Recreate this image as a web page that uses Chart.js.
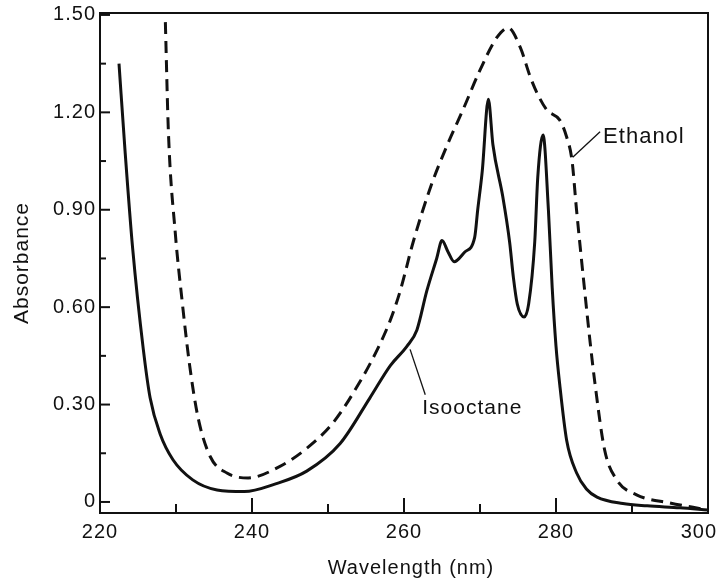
<!DOCTYPE html>
<html>
<head>
<meta charset="utf-8">
<script src="https://cdn.jsdelivr.net/npm/chart.js@4/dist/chart.umd.min.js"></script>
<style>
  html, body { margin: 0; padding: 0; background: #fff; }
  #wrap { width: 721px; height: 580px; }
</style>
</head>
<body>
<div id="wrap"><canvas id="c" width="721" height="580"></canvas></div>
<script>
// ---- data ----
const isoWavelength = [222.5, 223.3, 224.3, 225.7, 226.6, 227.9, 229.6, 232.2, 235.4, 239.0, 243.0, 247.2, 251.6, 255.5, 258.2, 260.4, 261.7, 263.0, 264.3, 265.0, 265.8, 266.6, 268.0, 269.3, 269.7, 270.3, 271.1, 271.7, 273.0, 273.9, 274.4, 274.9, 275.8, 276.4, 277.2, 277.6, 278.3, 279.0, 279.5, 280.0, 280.5, 281.4, 282.7, 284.0, 285.4, 288.8, 292.0, 296.3, 300.0];
const isoAbsorbance = [1.35, 1.08, 0.78, 0.47, 0.32, 0.21, 0.13, 0.068, 0.037, 0.032, 0.055, 0.095, 0.18, 0.32, 0.42, 0.48, 0.53, 0.65, 0.75, 0.805, 0.77, 0.74, 0.77, 0.815, 0.90, 1.02, 1.24, 1.10, 0.94, 0.80, 0.69, 0.61, 0.57, 0.61, 0.80, 1.00, 1.13, 0.90, 0.66, 0.48, 0.36, 0.19, 0.09, 0.04, 0.015, -0.005, -0.012, -0.018, -0.025];

const ethWavelength = [228.6, 229.0, 229.9, 230.8, 231.8, 232.9, 234.5, 236.7, 239.5, 243.3, 247.2, 250.7, 254.2, 256.5, 258.2, 259.5, 261.2, 263.5, 265.7, 267.8, 270.0, 272.2, 273.7, 275.3, 276.6, 277.5, 278.8, 280.5, 281.4, 282.1, 282.7, 283.6, 284.5, 285.1, 286.4, 288.0, 290.6, 295.0, 299.3, 300.0];
const ethAbsorbance = [1.478, 1.14, 0.83, 0.62, 0.42, 0.26, 0.14, 0.089, 0.074, 0.105, 0.165, 0.245, 0.37, 0.47, 0.56, 0.65, 0.80, 0.97, 1.10, 1.21, 1.33, 1.43, 1.46, 1.40, 1.31, 1.26, 1.207, 1.176, 1.124, 1.053, 0.90, 0.69, 0.49, 0.37, 0.16, 0.068, 0.022, -0.003, -0.022, -0.025];

const xTickLabels = [220, 240, 260, 280, 300];
const xMinorTicks = [230, 250, 270, 290];
const yTickLabels = [0, 0.30, 0.60, 0.90, 1.20, 1.50];
const yMinorTicks = [0.15, 0.45, 0.75, 1.05, 1.35];

const seriesNames = ['Isooctane', 'Ethanol'];
const xTitle = 'Wavelength (nm)';
const yTitle = 'Absorbance';

// ---- styling / annotation placement (kept apart from data) ----
const FONT = "'Liberation Sans', Arial, Helvetica, sans-serif";
const INK = '#111';
const annotations = [
  { text: seriesNames[1], size: 22, from: [282.2, 1.062], to: [285.8, 1.14], label: [286.2, 1.124] },
  { text: seriesNames[0], size: 21, from: [260.8, 0.47], to: [262.8, 0.33], label: [262.4, 0.288] }
];

const toPts = (xs, ys) => xs.map((x, i) => ({ x: x, y: ys[i] }));

const spacingPlugin = {
  id: 'spacing',
  beforeDraw(chart) { chart.ctx.letterSpacing = '1px'; }
};

const framePlugin = {
  id: 'frameTicks',
  afterDraw(chart) {
    const { ctx, chartArea: a, scales: { x, y } } = chart;
    ctx.save();
    ctx.strokeStyle = INK;
    ctx.lineWidth = 2;
    ctx.strokeRect(a.left, a.top, a.right - a.left, a.bottom - a.top);
    const seg = (x1, y1, x2, y2) => { ctx.beginPath(); ctx.moveTo(x1, y1); ctx.lineTo(x2, y2); ctx.stroke(); };
    xTickLabels.forEach(v => { const p = x.getPixelForValue(v); seg(p, a.bottom, p, a.bottom - 15); });
    xMinorTicks.forEach(v => { const p = x.getPixelForValue(v); seg(p, a.bottom, p, a.bottom - 9); });
    yTickLabels.forEach(v => { const p = y.getPixelForValue(v); seg(a.left, p, a.left + 10, p); });
    yMinorTicks.forEach(v => { const p = y.getPixelForValue(v); seg(a.left, p, a.left + 6, p); });

    ctx.fillStyle = INK;
    // x tick labels (last one kept inside the canvas, as in the print)
    ctx.font = '20px ' + FONT;
    ctx.textBaseline = 'alphabetic';
    ctx.textAlign = 'left';
    xTickLabels.forEach(v => {
      const t = String(v);
      const w = ctx.measureText(t).width;
      let left = x.getPixelForValue(v) - w / 2;
      if (left + w > chart.width - 4) left = chart.width - 4 - w;
      ctx.fillText(t, left, a.bottom + 25);
    });
    // x title
    ctx.textAlign = 'center';
    ctx.fillText(xTitle, (a.left + a.right) / 2 + 7, a.bottom + 61);

    // annotations
    ctx.lineWidth = 1.3;
    ctx.textBaseline = 'middle';
    ctx.textAlign = 'left';
    annotations.forEach(an => {
      seg(x.getPixelForValue(an.from[0]), y.getPixelForValue(an.from[1]),
          x.getPixelForValue(an.to[0]), y.getPixelForValue(an.to[1]));
      ctx.font = an.size + 'px ' + FONT;
      ctx.fillText(an.text, x.getPixelForValue(an.label[0]), y.getPixelForValue(an.label[1]));
    });
    ctx.restore();
  }
};

new Chart(document.getElementById('c'), {
  type: 'line',
  data: {
    datasets: [
      {
        label: seriesNames[0],
        data: toPts(isoWavelength, isoAbsorbance),
        borderColor: INK, borderWidth: 3, pointRadius: 0,
        cubicInterpolationMode: 'monotone', fill: false
      },
      {
        label: seriesNames[1],
        data: toPts(ethWavelength, ethAbsorbance),
        borderColor: INK, borderWidth: 3, borderDash: [12, 7], pointRadius: 0,
        cubicInterpolationMode: 'monotone', fill: false
      }
    ]
  },
  options: {
    responsive: false,
    animation: false,
    devicePixelRatio: 1,
    layout: { padding: { top: 13, right: 13, left: 0, bottom: 0 } },
    plugins: { legend: { display: false }, tooltip: { enabled: false } },
    scales: {
      x: {
        type: 'linear', min: 220, max: 300,
        afterFit: s => { s.height = 67; s.paddingLeft = 0; s.paddingRight = 0; },
        afterBuildTicks: s => { s.ticks = xTickLabels.map(v => ({ value: v })); },
        grid: { display: false, drawTicks: false },
        border: { display: false },
        ticks: { display: false },
        title: { display: false, text: xTitle }
      },
      y: {
        type: 'linear', min: -0.034, max: 1.506,
        afterFit: s => { s.width = 100; s.paddingTop = 0; s.paddingBottom = 0; },
        afterBuildTicks: s => { s.ticks = yTickLabels.map(v => ({ value: v })); },
        grid: { display: false, drawTicks: false },
        border: { display: false },
        ticks: { padding: 4, color: INK, font: { family: FONT, size: 20 }, autoSkip: false, callback: v => (v === 0 ? '0' : v.toFixed(2)) },
        title: { display: true, text: yTitle, color: INK, font: { family: FONT, size: 21 }, padding: { top: 10, bottom: 0 } }
      }
    }
  },
  plugins: [spacingPlugin, framePlugin]
});
</script>
</body>
</html>
